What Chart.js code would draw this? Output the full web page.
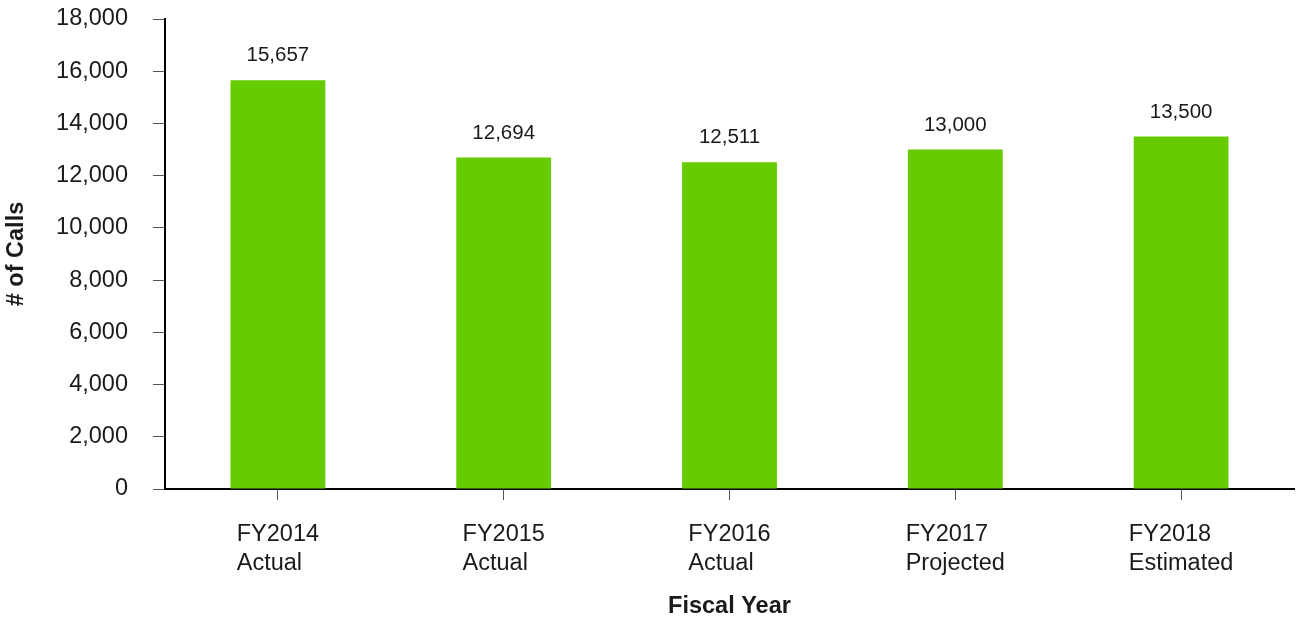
<!DOCTYPE html>
<html>
<head>
<meta charset="utf-8">
<script src="https://cdn.jsdelivr.net/npm/chart.js@4"></script>
<style>
  html, body { margin: 0; padding: 0; background: #fff; }
  #wrap { width: 1299px; height: 623px; }
</style>
</head>
<body>
<div id="wrap"><canvas id="callsChart" width="1299" height="623"></canvas></div>
<script>
// chart data
const fiscalYears = [
    ['FY2014', 'Actual'],
    ['FY2015', 'Actual'],
    ['FY2016', 'Actual'],
    ['FY2017', 'Projected'],
    ['FY2018', 'Estimated']
];
const callCounts = [15657, 12694, 12511, 13000, 13500];
const yTicks = [0, 2000, 4000, 6000, 8000, 10000, 12000, 14000, 16000, 18000];

const FONT = '"Liberation Sans", Arial, sans-serif';
const TEXT = '#1a1a1a';

const fmt = v => Number(v).toLocaleString('en-US');

// left-aligned two-line category labels, centred as a block under each tick
const categoryLabels = {
    id: 'categoryLabels',
    afterDraw(chart) {
        const scale = chart.scales.x;
        const ctx = chart.ctx;
        ctx.save();
        ctx.font = '23.5px ' + FONT;
        ctx.fillStyle = TEXT;
        ctx.textAlign = 'left';
        ctx.textBaseline = 'middle';
        fiscalYears.forEach((lines, i) => {
            const x = scale.getPixelForTick(i);
            const w = Math.max(...lines.map(l => ctx.measureText(l).width));
            lines.forEach((line, j) => {
                ctx.fillText(line, x - w / 2, scale.top + 46 + j * 29);
            });
        });
        ctx.restore();
    }
};

// value above each bar
const barValues = {
    id: 'barValues',
    afterDatasetsDraw(chart) {
        const ctx = chart.ctx;
        const meta = chart.getDatasetMeta(0);
        ctx.save();
        ctx.font = '20.5px ' + FONT;
        ctx.fillStyle = TEXT;
        ctx.textAlign = 'center';
        ctx.textBaseline = 'alphabetic';
        meta.data.forEach((bar, i) => {
            ctx.fillText(fmt(callCounts[i]), bar.x, bar.y - 19);
        });
        ctx.restore();
    }
};

new Chart(document.getElementById('callsChart'), {
    type: 'bar',
    data: {
        labels: fiscalYears,
        datasets: [{
            label: '# of Calls',
            data: callCounts,
            backgroundColor: '#66cc00',
            borderWidth: 0,
            categoryPercentage: 1,
            barPercentage: 0.42
        }]
    },
    options: {
        responsive: false,
        animation: false,
        layout: { padding: { top: 19, right: 5, left: 0, bottom: 0 } },
        plugins: {
            legend: { display: false },
            tooltip: { enabled: false }
        },
        scales: {
            x: {
                afterFit: s => { s.height = 134; s.paddingLeft = 0; s.paddingRight = 0; },
                grid: { display: true, offset: false, drawOnChartArea: false, drawTicks: true, tickLength: 11, tickColor: '#555', tickWidth: 1 },
                border: { display: true, color: '#000', width: 2 },
                ticks: { display: false },
                title: {
                    display: true,
                    text: 'Fiscal Year',
                    color: TEXT,
                    font: { family: FONT, size: 23.5, weight: 'bold' },
                    padding: { top: 0, bottom: 2 }
                }
            },
            y: {
                min: 0,
                max: 18000,
                afterFit: s => { s.width = 165; s.paddingTop = 0; s.paddingBottom = 0; },
                afterBuildTicks: s => { s.ticks = yTicks.map(v => ({ value: v })); },
                grid: { display: true, drawOnChartArea: false, drawTicks: true, tickLength: 12, tickColor: '#555', tickWidth: 1 },
                border: { display: true, color: '#000', width: 2 },
                ticks: {
                    color: TEXT,
                    padding: 25,
                    font: { family: FONT, size: 23.5 },
                    callback: v => fmt(v)
                },
                title: {
                    display: true,
                    text: '# of Calls',
                    color: TEXT,
                    font: { family: FONT, size: 23.5, weight: 'bold' },
                    padding: { top: 2, bottom: 0 }
                }
            }
        }
    },
    plugins: [categoryLabels, barValues]
});
</script>
</body>
</html>
